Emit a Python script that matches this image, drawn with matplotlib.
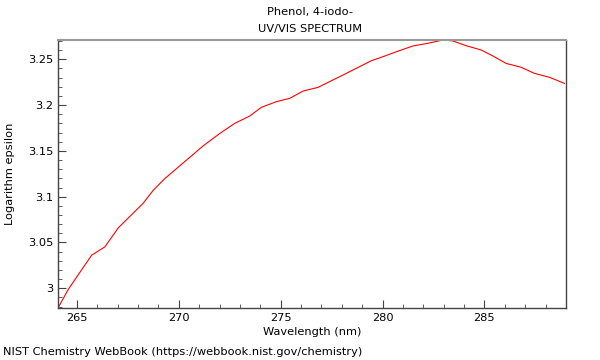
import matplotlib
matplotlib.use('Agg')
import matplotlib.pyplot as plt
from matplotlib.ticker import MultipleLocator

# Spectrum
wavelength = [264.07, 264.58, 265.72, 266.37, 267.03, 268.25, 268.74, 269.3,
              270.38, 271.2, 272.01, 272.75, 273.48, 274.05, 274.79, 275.44,
              276.1, 276.83, 278.06, 278.87, 279.45, 280.02, 280.83, 281.49,
              282.22, 282.96, 283.45, 284.1, 284.84, 285.41, 286.06, 286.8,
              287.45, 288.19, 288.92]
log_eps = [2.9785, 2.999, 3.0361, 3.0452, 3.066, 3.0928, 3.1069, 3.1195,
           3.14, 3.1555, 3.169, 3.1801, 3.188, 3.1975, 3.2037, 3.2073,
           3.2153, 3.2193, 3.2328, 3.2419, 3.2484, 3.2528, 3.2594, 3.2645,
           3.2674, 3.271, 3.27, 3.2648, 3.2601, 3.2536, 3.2455, 3.2412,
           3.2346, 3.2303, 3.2237]

plt.rcParams['font.family'] = 'DejaVu Sans'
plt.rcParams['font.size'] = 8.2

fig = plt.figure(figsize=(6, 3.6), dpi=100)
ax = fig.add_axes([58/600, 1-308/360, 508/600, 268/360])
ax.plot(wavelength, log_eps, color='red', linewidth=0.8)

ax.set_xlim(264.07, 289.0)
ax.set_ylim(2.9785, 3.271)
ax.xaxis.set_major_locator(MultipleLocator(5))
ax.xaxis.set_minor_locator(MultipleLocator(1))
ax.yaxis.set_minor_locator(MultipleLocator(0.01))
ax.set_yticks([3.0, 3.05, 3.1, 3.15, 3.2, 3.25])
ax.set_yticklabels(['3', '3.05', '3.1', '3.15', '3.2', '3.25'])
ax.tick_params(which='both', direction='in', color='#444444', top=False, right=False)
ax.tick_params(which='major', length=6)
ax.tick_params(which='minor', length=3)

for side in ['left', 'bottom', 'right']:
    ax.spines[side].set_color('#444444')
    ax.spines[side].set_linewidth(1)
ax.spines['top'].set_color('#999999')
ax.spines['top'].set_linewidth(1.5)

ax.set_xlabel('Wavelength (nm)', labelpad=3)
ax.set_ylabel('Logarithm epsilon', labelpad=9)
fig.text(310/600, 1-12/360, 'Phenol, 4-iodo-', ha='center', va='center')
fig.text(310/600, 1-29/360, 'UV/VIS SPECTRUM', ha='center', va='center')
fig.text(3/600, 1-352/360, 'NIST Chemistry WebBook (https://webbook.nist.gov/chemistry)',
         ha='left', va='center')

fig.savefig('out.png', dpi=100)
